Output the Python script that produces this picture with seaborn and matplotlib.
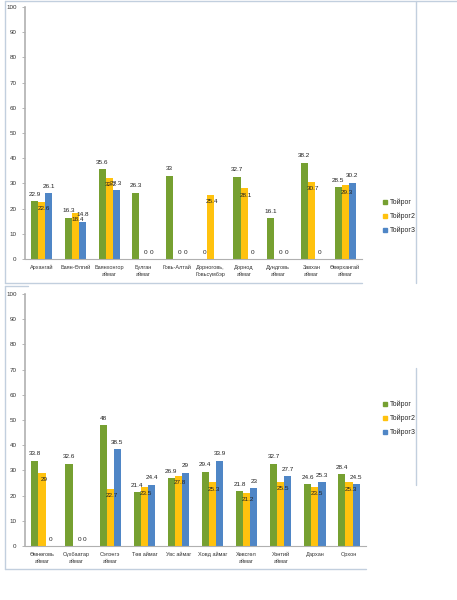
import numpy as np
import pandas as pd
import matplotlib
matplotlib.use("Agg")
import matplotlib.pyplot as plt
from matplotlib.lines import Line2D
import seaborn as sns

sns.set_theme(style="white")
plt.rcParams['font.family'] = ['Liberation Sans', 'DejaVu Sans']

series = ["Тойрог", "Тойрог2", "Тойрог3"]
colors = ["#76A031", "#FFC20E", "#4F86C6"]

cats1 = ["Архангай", "Баян-Өлгий", "Баянхонгор\nаймаг", "Булган\nаймаг", "Говь-Алтай",
         "Дорноговь,\nГовьсүмбэр", "Дорнод\nаймаг", "Дундговь\nаймаг", "Завхан\nаймаг",
         "Өвөрхангай\nаймаг"]
t1_1 = [22.9, 16.3, 35.6, 26.3, 33.0, 0.0, 32.7, 16.1, 38.2, 28.5]
t2_1 = [22.6, 18.4, 32.2, 0.0, 0.0, 25.4, 28.1, 0.0, 30.7, 29.3]
t3_1 = [26.1, 14.8, 27.3, 0.0, 0.0, np.nan, 0.0, 0.0, 0.0, 30.2]

cats2 = ["Өмнөговь\nаймаг", "Сүхбаатар\nаймаг", "Сэлэнгэ\nаймаг", "Төв аймаг", "Увс аймаг",
         "Ховд аймаг", "Хөвсгөл\nаймаг", "Хэнтий\nаймаг", "Дархан", "Орхон"]
t1_2 = [33.8, 32.6, 48.0, 21.4, 26.9, 29.4, 21.8, 32.7, 24.6, 28.4]
t2_2 = [29.0, 0.0, 22.7, 23.5, 27.8, 25.3, 21.2, 25.5, 23.5, 25.3]
t3_2 = [0.0, 0.0, 38.5, 24.4, 29.0, 33.9, 23.0, 27.7, 25.3, 24.5]

yticks = list(range(0, 101, 10))


def make_df(cats, a, b, c):
    rows = []
    for vals, s in zip([a, b, c], series):
        for cat, v in zip(cats, vals):
            rows.append({"cat": cat, "series": s, "value": v})
    return pd.DataFrame(rows)


def fmt(v):
    return f"{v:g}"


fig = plt.figure(figsize=(4.57, 6.0), dpi=100)

def draw(ax, cats, a, b, c):
    df = make_df(cats, a, b, c)
    sns.barplot(data=df, x="cat", y="value", hue="series", order=cats,
                hue_order=series, palette=colors, width=0.63, ax=ax,
                saturation=1, legend=False, edgecolor="none")
    n = len(cats)
    w = 0.63 / 3
    for si, vals in enumerate([a, b, c]):
        for i, v in enumerate(vals):
            if np.isnan(v):
                continue
            x = i - 0.63 / 2 + w * (si + 0.5)
            if si == 1 and v > 0:
                off = -5
            else:
                off = 5
            dx = 0.05 if si == 1 else 0
            if v == 0:
                dx += 0.04
            ax.annotate(fmt(v), (x + dx, v), xytext=(0, off),
                        textcoords="offset points", ha="center", va="center",
                        fontsize=4.6, color="#222222")
    ax.set_ylim(0, 100)
    ax.set_xlim(-0.5, n - 0.5)
    ax.set_yticks(yticks)
    ax.set_yticklabels([str(t) for t in yticks], fontsize=4.5, color="#333333")
    ax.set_xticks(range(n))
    ax.set_xticklabels(cats, fontsize=4.0, color="#333333", linespacing=1.5)
    ax.set_xticks(np.arange(-0.5, n, 1.0), minor=True)
    ax.tick_params(axis="x", which="major", length=0, pad=4)
    ax.tick_params(axis="x", which="minor", length=3, color="#aaaaaa", width=0.6, direction="out")
    ax.tick_params(axis="y", length=2, color="#aaaaaa", width=0.6, pad=4, direction="out", left=True)
    ax.set_xlabel("")
    ax.set_ylabel("")
    for s in ["top", "right"]:
        ax.spines[s].set_visible(False)
    ax.spines["left"].set_color("#b0b0b0")
    ax.spines["left"].set_linewidth(1.2)
    ax.spines["bottom"].set_color("#b0b0b0")
    ax.spines["bottom"].set_linewidth(0.8)
    ax.grid(False)


W, H = 457.0, 600.0
ax1 = fig.add_axes([25 / W, 1 - 259 / H, 337 / W, 252 / H])
draw(ax1, cats1, t1_1, t2_1, t3_1)
ax2 = fig.add_axes([25 / W, 1 - 546 / H, 341 / W, 252 / H])
draw(ax2, cats2, t1_2, t2_2, t3_2)

# legends
handles = [Line2D([0], [0], marker="s", linestyle="none", markersize=3.2,
                  markerfacecolor=c, markeredgecolor=c) for c in colors]
for ytop in [1 - 196 / H, 1 - 398 / H]:
    fig.legend(handles, series, loc="upper left", bbox_to_anchor=(379 / W, ytop),
               frameon=False, fontsize=5.0, handletextpad=0.1, labelspacing=0.95,
               handlelength=1.0, borderaxespad=0)

# chart frames
bc = "#c2cfde"
def fl(xs, ys, lw=1.0):
    fig.add_artist(Line2D([x / W for x in xs], [1 - y / H for y in ys],
                          color=bc, lw=lw, transform=fig.transFigure))

fl([5, 457], [1, 1])
fl([5, 5], [1, 283])
fl([5, 362], [283, 283])
fl([416, 416], [1, 283])
fl([5, 5], [286, 569])
fl([5, 28], [286, 286])
fl([5, 366], [569, 569])
fl([416, 416], [368, 485])

fig.savefig("out.png", dpi=100)
